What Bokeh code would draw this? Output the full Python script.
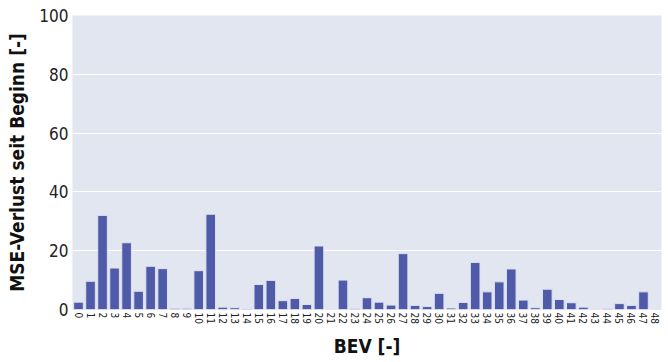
import math
from bokeh.plotting import figure
from bokeh.models import Range1d, FixedTicker
from bokeh.embed import file_html
from bokeh.resources import INLINE

bev = list(range(49))
mse_loss = [2.5, 9.6, 32.0, 14.1, 22.7, 6.2, 14.7, 13.9, 0.4, 0.4,
            13.2, 32.4, 0.8, 0.6, 0.2, 8.5, 9.9, 3.0, 3.75, 1.7,
            21.6, 0.0, 10.0, 0.3, 4.0, 2.5, 1.5, 19.0, 1.4, 1.0,
            5.5, 0.5, 2.4, 16.0, 6.0, 9.4, 13.8, 3.2, 0.6, 6.9,
            3.4, 2.3, 0.8, 0.0, 0.3, 2.0, 1.4, 6.0, 0.0]
y_ticks = [0, 20, 40, 60, 80, 100]

p = figure(width=668, height=362, output_backend="svg", toolbar_location=None,
           x_range=Range1d(-0.5, 48.5), y_range=Range1d(0, 100),
           min_border_left=72, min_border_right=7, min_border_top=15, min_border_bottom=53)
p.background_fill_color = "#E1E6F0"
p.border_fill_color = "white"
p.outline_line_color = None

p.vbar(x=bev, top=mse_loss, width=0.8, bottom=0, fill_color="#4F5AA8",
       line_color="#DDE2F0", line_width=1)

p.xaxis.ticker = FixedTicker(ticks=bev)
p.yaxis.ticker = FixedTicker(ticks=y_ticks)
p.xgrid.grid_line_color = None
p.ygrid.grid_line_color = "white"
p.ygrid.grid_line_width = 1.2

font = "DejaVu Sans Condensed"
for ax in (p.xaxis[0], p.yaxis[0]):
    ax.axis_line_color = None
    ax.major_tick_line_color = None
    ax.minor_tick_line_color = None
    ax.major_tick_out = 0
    ax.major_tick_in = 0
    ax.minor_tick_out = 0
    ax.minor_tick_in = 0
    ax.major_label_text_font = font
    ax.major_label_text_color = "#222222"
    ax.axis_label_text_font = font
    ax.axis_label_text_font_style = "bold"
    ax.axis_label_text_font_size = "19px"
    ax.axis_label_text_color = "#111111"

p.xaxis.major_label_orientation = -math.pi / 2
p.xaxis.major_label_text_font_size = "10px"
p.xaxis.major_label_standoff = 3
p.yaxis.major_label_text_font_size = "17px"
p.yaxis.major_label_standoff = 4
p.xaxis.axis_label = "BEV [-]"
p.yaxis.axis_label = "MSE-Verlust seit Beginn [-]"
p.xaxis.axis_label_standoff = 8
p.yaxis.axis_label_standoff = 8

open("out.html", "w").write(file_html(p, INLINE))
